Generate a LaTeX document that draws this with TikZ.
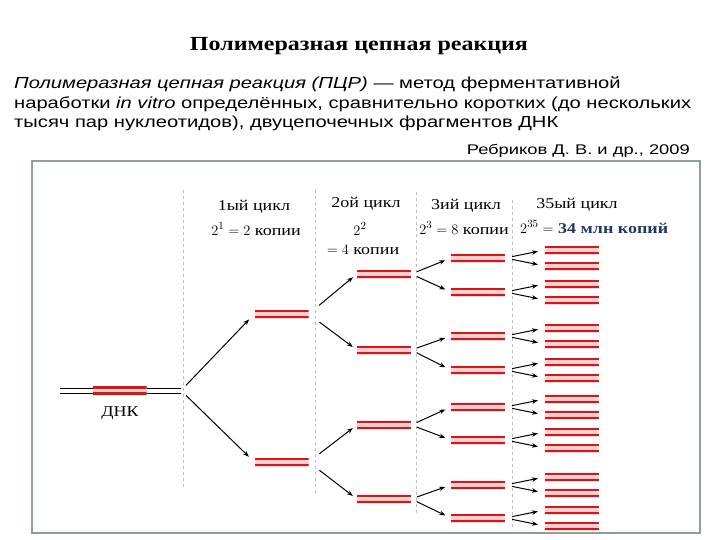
\documentclass[tikz,border=0pt]{standalone}
\usepackage{fontspec}
\setmainfont[FakeStretch=1.2]{Liberation Serif}
\newfontfamily\arialf[FakeStretch=1.26]{Liberation Sans}
\newfontfamily\arialsrc[FakeStretch=1.31]{Liberation Sans}
\usetikzlibrary{arrows.meta}
\definecolor{dnared}{RGB}{215,22,28}
\definecolor{dnapink}{RGB}{255,208,208}
\definecolor{framegray}{RGB}{140,160,152}
\definecolor{navyblue}{RGB}{31,56,100}
\tikzset{
  copyband/.style={minimum width=54pt, minimum height=9pt, inner sep=0pt, fill=dnapink,
    path picture={
      \draw[dnared, line width=2.4pt]
        ([yshift=3pt]path picture bounding box.west) -- ([yshift=3pt]path picture bounding box.east)
        ([yshift=-3pt]path picture bounding box.west) -- ([yshift=-3pt]path picture bounding box.east);}},
  copyarrow/.style={-{Stealth[length=6pt,width=4.5pt]}, line width=1pt},
  cyclesep/.style={black!25, dashed, line width=0.6pt},
  textline/.style={anchor=base west, inner sep=0pt, font=\arialf\fontsize{16}{19}\selectfont},
  lbl/.style={inner sep=0pt, font=\fontsize{15}{17}\selectfont}
}
\begin{document}
\begin{tikzpicture}[x=1pt, y=-1pt]
    \useasboundingbox (0,0) rectangle (720,540);

    % Titel und Text
    \node[anchor=base, inner sep=0pt, font=\bfseries\fontsize{20}{24}\selectfont] (title) at (359,50.7)
        {Полимеразная цепная реакция};
    \node[textline] (line1) at (14,88.5)
        {\textit{Полимеразная цепная реакция (ПЦР)} — метод ферментативной};
    \node[textline] (line2) at (14,108.5)
        {наработки \textit{in vitro} определённых, сравнительно коротких (до нескольких};
    \node[textline] (line3) at (14,128)
        {тысяч пар нуклеотидов), двуцепочечных фрагментов ДНК};
    \node[anchor=base east, inner sep=0pt, font=\arialsrc\fontsize{14}{16}\selectfont] (source) at (690,155)
        {Ребриков Д. В. и др., 2009};

    % Rahmen und Trennlinien
    \draw[framegray, line width=1.8pt] (32,161) rectangle (700,533);
    \foreach \x/\t/\b in {183/190/490, 315/190/493, 416/192/515, 512/200/527}
        \draw[cyclesep] (\x,\t) -- (\x,\b);

    % Zyklen
    \node[lbl] (cyc1) at (254,207) {1ый цикл};
    \node[lbl] (cnt1) at (256,229) {$2^1 = 2$ копии};
    \node[lbl] (cyc2) at (366,204) {2ой цикл};
    \node[lbl] (cnt2a) at (360,229) {$2^2$};
    \node[lbl] (cnt2b) at (363,250) {$= 4$ копии};
    \node[lbl] (cyc3) at (466,206) {3ий цикл};
    \node[lbl] (cnt3) at (464,228) {$2^3 = 8$ копии};
    \node[lbl] (cyc35) at (577,205) {35ый цикл};
    \node[lbl, anchor=west] (cnt35) at (520,227) {$2^{35} =$ \textcolor{navyblue}{\textbf{34 млн копий}}};

    % DNK
    \draw[line width=0.9pt] (60,388.5) -- (181,388.5);
    \draw[line width=1.5pt] (60,393.5) -- (181,393.5);
    \coordinate (dnaend) at (181,390.5);
    \node[copyband, minimum height=10pt] (dna) at (119.5,390.5) {};
    \node[lbl] (dnalbl) at (120,413) {ДНК};

    % Kopien
    \foreach \y [count=\i] in {314,462} {
        \node[copyband] (g1-\i) at (281.5,\y) {};
        \draw[copyarrow, shorten <=7pt, shorten >=7.5pt] (dnaend) -- (g1-\i.west);
    }
    \foreach \y [count=\i] in {274,350,425,499} {
        \pgfmathtruncatemacro\p{(\i+1)/2}
        \node[copyband] (g2-\i) at (384,\y) {};
        \draw[copyarrow, shorten <=13.5pt, shorten >=5pt] (g1-\p.east) -- (g2-\i.west);
    }
    \foreach \y [count=\i] in {258,292,336,370,407,440,485,518} {
        \pgfmathtruncatemacro\p{(\i+1)/2}
        \node[copyband] (g3-\i) at (478,\y) {};
        \draw[copyarrow, shorten <=6pt, shorten >=6pt] (g2-\p.east) -- (g3-\i.west);
    }
    \foreach \y [count=\i] in {250,266,284,300,328,344,362,378,399,415,432,448,477,493,510,526} {
        \pgfmathtruncatemacro\p{(\i+1)/2}
        \node[copyband] (g4-\i) at (572,\y) {};
        \draw[copyarrow, shorten <=7pt, shorten >=7pt] (g3-\p.east) -- (g4-\i.west);
    }
\end{tikzpicture}
\end{document}
